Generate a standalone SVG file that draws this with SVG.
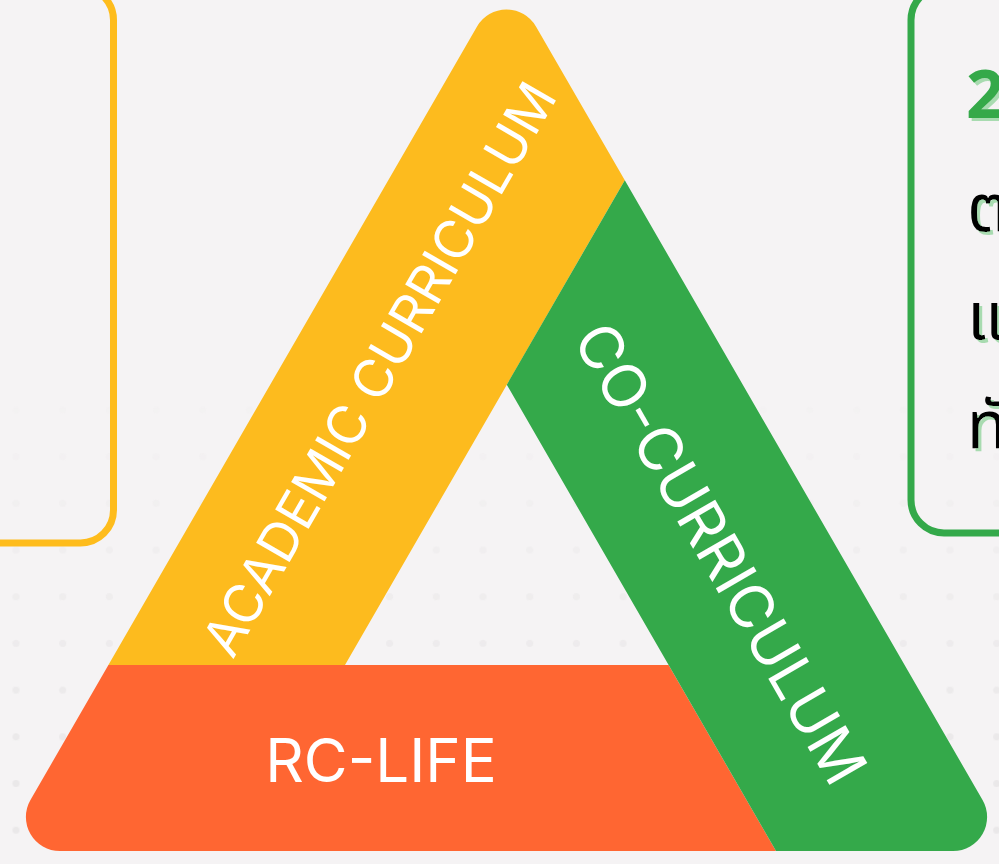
<svg xmlns="http://www.w3.org/2000/svg" width="999" height="864" viewBox="0 0 999 864">
  <defs>
    <style>
      .band-label { font-family: Inter, 'Noto Sans', 'Liberation Sans', sans-serif; fill: #ffffff; }
      .box { fill: none; stroke-width: 7; }
      .thai { font-family: 'Noto Sans', 'Noto Sans Thai', 'DejaVu Sans', sans-serif; font-size: 66px; fill: #000; }
    </style>
    <filter id="greenShadow" x="-20%" y="-20%" width="160%" height="160%">
      <feFlood flood-color="#A8DBB0" result="c"/>
      <feComposite in="c" in2="SourceAlpha" operator="in" result="s"/>
      <feOffset in="s" dx="3" dy="3" result="o"/>
      <feMerge>
        <feMergeNode in="o"/>
        <feMergeNode in="SourceGraphic"/>
      </feMerge>
    </filter>
    <pattern id="dots" patternUnits="userSpaceOnUse" x="-7.35" y="12.95" width="46.7" height="46.7">
      <circle cx="23.35" cy="23.35" r="3.5" fill="#EAE8E9"/>
    </pattern>
    <linearGradient id="fade" gradientUnits="userSpaceOnUse" x1="0" y1="380" x2="0" y2="760">
      <stop offset="0" stop-color="#fff" stop-opacity="0"/>
      <stop offset="1" stop-color="#fff" stop-opacity="1"/>
    </linearGradient>
    <mask id="fadeMask">
      <rect x="0" y="0" width="999" height="864" fill="url(#fade)"/>
    </mask>
  </defs>

  <rect x="0" y="0" width="999" height="864" fill="#F5F3F4"/>
  <rect x="0" y="0" width="999" height="864" fill="url(#dots)" mask="url(#fadeMask)"/>

  <g id="left-box">
    <rect class="box" x="-300" y="-13" width="413.5" height="556" rx="33" stroke="#FEBC1C"/>
  </g>

  <g id="right-box">
    <rect class="box" x="911" y="-13" width="400" height="546" rx="33" stroke="#34A94A"/>
    <g filter="url(#greenShadow)">
      <text x="966" y="118" font-family="'Noto Sans', 'Liberation Sans', sans-serif" font-weight="700" font-size="67" fill="#34A94A">2</text>
      <g class="thai">
        <text x="967" y="231">ต</text>
        <text x="967" y="339">แ</text>
        <text x="967" y="448">ทั</text>
      </g>
    </g>
  </g>

  <g id="rc-life">
    <path d="M 108.4 665 L 668.6 665 L 776 851 L 59.9 851 A 34 34 0 0 1 30.45 800 Z" fill="#FF6632"/>
    <text class="band-label" x="381" y="782" font-size="60" text-anchor="middle">RC-LIFE</text>
  </g>

  <g id="academic-curriculum">
    <path d="M 108.4 665 L 477.05 26.5 A 34 34 0 0 1 535.95 26.5 L 624.8 180.3 L 345 665 Z" fill="#FDBB1E"/>
    <text class="band-label" transform="translate(379 369) rotate(-60)" x="0" y="19" font-size="53" text-anchor="middle">ACADEMIC CURRICULUM</text>
  </g>

  <g id="co-curriculum">
    <path d="M 624.8 180.3 L 982.55 800 A 34 34 0 0 1 953.1 851 L 776 851 L 506.8 384.7 Z" fill="#34A94A"/>
    <text class="band-label" transform="translate(721 553) rotate(60)" x="0" y="22" font-size="60" text-anchor="middle">CO-CURRICULUM</text>
  </g>

  <g id="connectors"></g>
</svg>
